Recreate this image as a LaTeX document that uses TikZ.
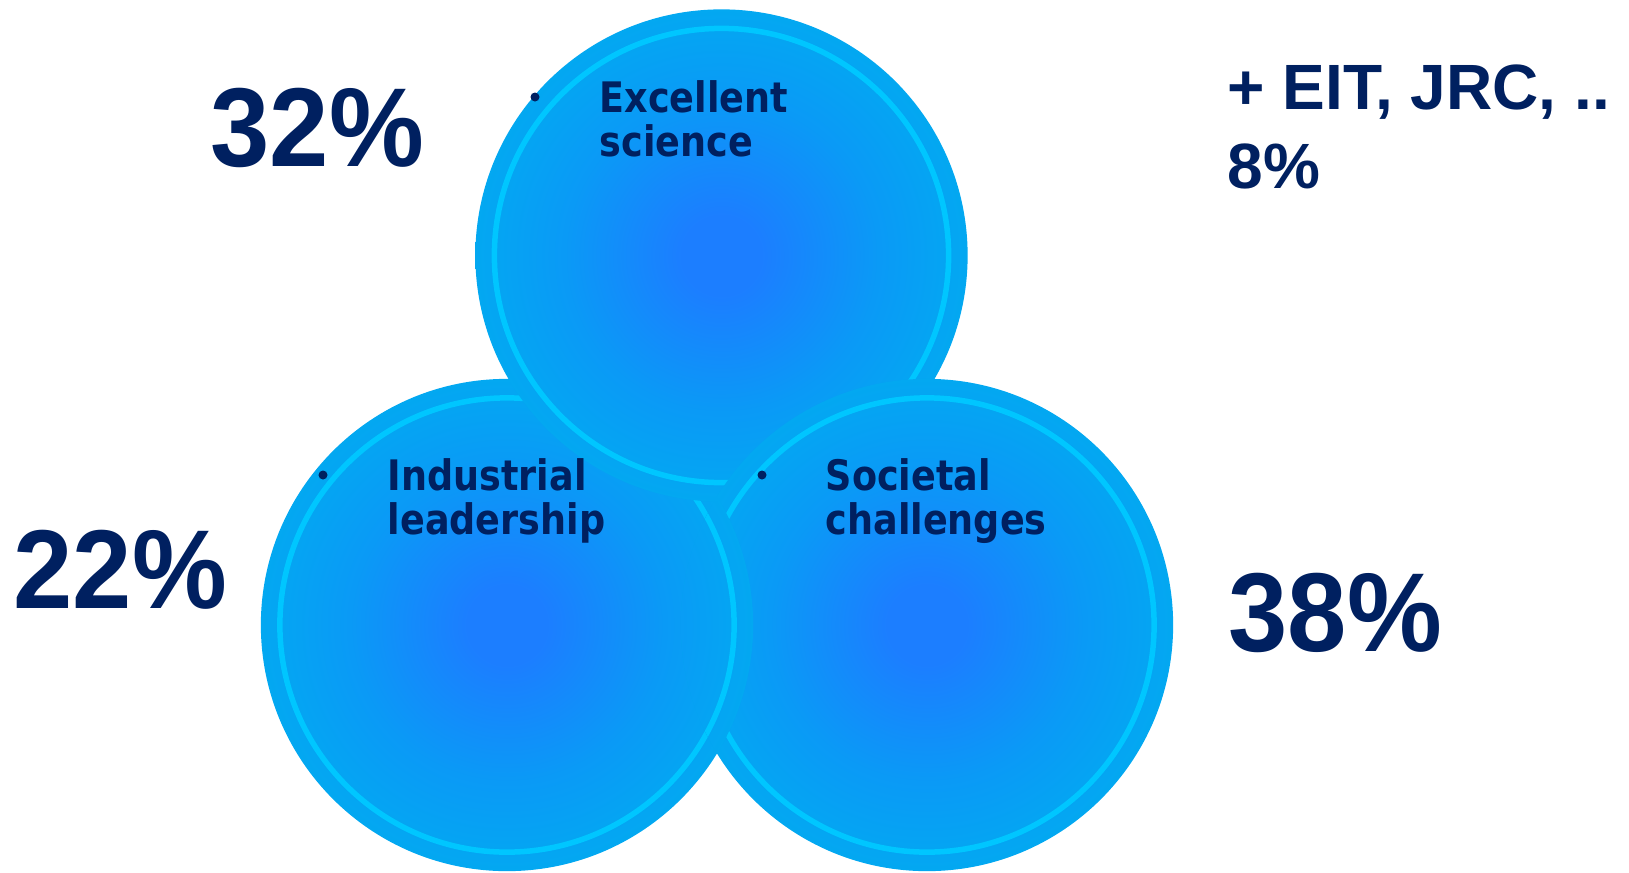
\documentclass[tikz,border=0pt]{standalone}
\usepackage{fontspec}
\newfontfamily\pctfont{Liberation Sans}
\newfontfamily\bigpctfont[FakeStretch=0.95]{Liberation Sans}
\newfontfamily\lblfont[FakeStretch=0.87]{DejaVu Sans}
\definecolor{navy}{HTML}{002060}
\definecolor{orbcore}{HTML}{1C7EFF}
\definecolor{orbmid}{HTML}{0A9AF6}
\definecolor{orbedge}{HTML}{00AEEF}
\definecolor{orbring}{HTML}{00C6FF}
\pgfdeclareradialshading{orb}{\pgfpoint{0bp}{0bp}}{color(0bp)=(orbcore); color(4bp)=(orbcore); color(16bp)=(orbmid); color(29bp)=(orbedge); color(50bp)=(orbedge)}
\tikzset{
  ring/.style={draw=orbring, line width=0.055cm},
  pct/.style={navy, font=\bigpctfont\bfseries\fontsize{31.9}{38}\selectfont, inner sep=0pt, anchor=base west},
  pctsmall/.style={navy, font=\pctfont\bfseries\fontsize{18.2}{22.5}\selectfont, inner sep=0pt, anchor=north west, align=left},
  lbl/.style={navy, font=\lblfont\bfseries\fontsize{11.95}{12.5}\selectfont, inner sep=0pt, anchor=north west, align=left},
  bulletdot/.style={fill=navy, circle, inner sep=0pt, minimum size=0.09cm}
}
\newcommand\orbdisc[1]{\shade[shading=orb] (#1) circle (2.46cm); \draw[ring] (#1) circle (2.27cm);}
\begin{document}
\begin{tikzpicture}[x=0.01cm, y=-0.01cm]
\useasboundingbox (0,0) rectangle (1629,872);
\coordinate (sci) at (721.5,255.5);
\coordinate (ind) at (507,625);
\coordinate (soc) at (927,625);
% the three discs, each one partly over the next
\orbdisc{ind}
\orbdisc{sci}
\orbdisc{soc}
\begin{scope}
    \clip (soc) circle (2.46cm);
    \orbdisc{ind}
\end{scope}
\begin{scope}
    \clip (soc) circle (2.46cm);
    \clip (ind) circle (2.46cm);
    \orbdisc{sci}
\end{scope}
% labels
\node[bulletdot] (bsci) at (535,97) {};
\node[lbl] (lsci) at (599,80) {Excellent\\science};
\node[bulletdot] (bind) at (323,475) {};
\node[lbl] (lind) at (387,458) {Industrial\\leadership};
\node[bulletdot] (bsoc) at (762,475) {};
\node[lbl] (lsoc) at (825,458) {Societal\\challenges};
% shares
\node[pct] (psci) at (210,166) {32\%};
\node[pct] (pind) at (13,608) {22\%};
\node[pct] (psoc) at (1228,651) {38\%};
\node[pctsmall] (prest) at (1227,64) {+ EIT, JRC, ..\\8\%};
\end{tikzpicture}
\end{document}
